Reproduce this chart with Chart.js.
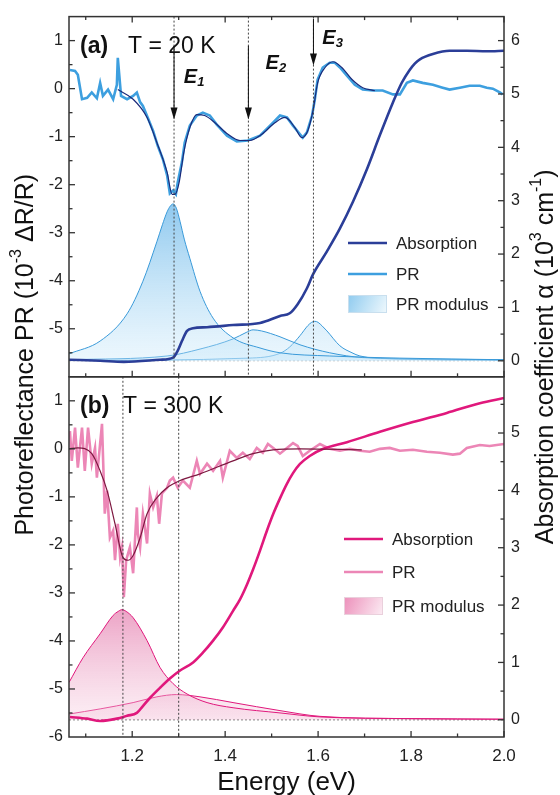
<!DOCTYPE html>
<html lang="en">
<head>
<meta charset="UTF-8">
<title>PR and absorption spectra, 20 K and 300 K</title>
<script src="https://cdn.jsdelivr.net/npm/chart.js"></script>
<style>
  html, body { margin: 0; padding: 0; background: #fff; }
  #wrap { width: 560px; height: 795px; position: relative; }
</style>
</head>
<body>
<div id="wrap"><canvas id="chart" width="560" height="795"></canvas></div>
<script>
// ---------- panel (a), T = 20 K ----------
const aPR_E = [1.066,1.077,1.083,1.092,1.103,1.113,1.124,1.131,1.137,1.148,1.159,1.167,1.169,1.176,1.189,1.202,1.210,1.217,1.223,1.232,1.245,1.255,1.266,1.275,1.281,1.288,1.294,1.298,1.307,1.313,1.324,1.339,1.352,1.367,1.382,1.404,1.425,1.449,1.475,1.503,1.518,1.533,1.546,1.561,1.567,1.576,1.587,1.593,1.599,1.610,1.625,1.636,1.647,1.662,1.679,1.696,1.718,1.739,1.761,1.776,1.791,1.804,1.825,1.847,1.868,1.883,1.905,1.926,1.948,1.963,1.976,1.991,1.997];
const aPR_V = [0.39,0.37,0.29,-0.22,-0.19,-0.08,-0.2,0.12,-0.15,-0.02,-0.22,0.08,0.64,-0.15,-0.22,-0.15,-0.08,-0.28,-0.36,-0.57,-0.88,-1.19,-1.47,-1.8,-2.18,-2.12,-2.2,-1.95,-1.53,-1.12,-0.77,-0.56,-0.5,-0.56,-0.75,-0.98,-1.1,-1.08,-0.98,-0.71,-0.56,-0.6,-0.77,-0.95,-1.02,-0.91,-0.56,-0.22,0.19,0.44,0.54,0.54,0.44,0.27,0.08,-0.02,-0.04,-0.04,-0.12,-0.12,0.12,0.17,0.12,0.08,0.02,-0.02,0.02,0.06,0.06,0.02,0.0,-0.08,-0.12];

const aFit_E = [1.169,1.202,1.232,1.253,1.275,1.286,1.292,1.301,1.311,1.324,1.339,1.356,1.378,1.406,1.432,1.453,1.479,1.507,1.529,1.550,1.565,1.578,1.589,1.599,1.615,1.632,1.651,1.673,1.696,1.722];
const aFit_V = [-0.02,-0.22,-0.6,-1.12,-1.74,-2.2,-2.2,-1.95,-1.33,-0.81,-0.54,-0.56,-0.71,-0.95,-1.08,-1.08,-0.95,-0.71,-0.6,-0.81,-1.02,-0.87,-0.46,0.12,0.44,0.56,0.44,0.19,0.02,-0.04];

const aAbs_E = [1.064,1.131,1.182,1.260,1.288,1.298,1.307,1.318,1.331,1.361,1.417,1.475,1.518,1.539,1.556,1.576,1.589,1.619,1.647,1.675,1.705,1.733,1.761,1.780,1.797,1.808,1.819,1.847,1.883,1.920,1.963,2.0];
const aAbs_A = [0.02,0.0,-0.02,0.02,0.06,0.19,0.37,0.56,0.61,0.63,0.67,0.71,0.84,0.89,1.06,1.36,1.62,2.05,2.48,2.98,3.59,4.23,4.84,5.21,5.45,5.57,5.65,5.75,5.81,5.81,5.8,5.81];

const aM1_E = [1.064,1.131,1.189,1.223,1.253,1.265,1.275,1.282,1.288,1.295,1.303,1.312,1.324,1.346,1.374,1.417,1.475,1.518,1.625,1.776,2.0];
const aM1_A = [0.13,0.37,0.88,1.49,2.23,2.55,2.79,2.9,2.94,2.86,2.61,2.28,1.92,1.3,0.8,0.43,0.24,0.15,0.09,0.05,0.02];
const aM2_E = [1.064,1.275,1.346,1.417,1.445,1.460,1.478,1.518,1.561,1.625,1.696,1.85,2.0];
const aM2_A = [0.02,0.09,0.22,0.41,0.53,0.58,0.56,0.45,0.3,0.15,0.06,0.03,0.02];
const aM3_E = [1.064,1.45,1.518,1.539,1.561,1.578,1.586,1.593,1.600,1.609,1.619,1.647,1.673,1.69,1.754,2.0];
const aM3_A = [0.005,0.05,0.14,0.26,0.47,0.66,0.72,0.74,0.72,0.65,0.56,0.28,0.15,0.09,0.04,0.01];

const aLines = [1.29, 1.45, 1.59];

// ---------- panel (b), T = 300 K ----------
const bPR_E = [1.066,1.070,1.077,1.083,1.092,1.098,1.105,1.113,1.120,1.124,1.135,1.141,1.146,1.152,1.159,1.163,1.169,1.174,1.178,1.182,1.187,1.195,1.202,1.210,1.212,1.217,1.223,1.232,1.238,1.245,1.253,1.258,1.264,1.275,1.281,1.288,1.298,1.309,1.324,1.339,1.346,1.361,1.374,1.389,1.395,1.410,1.425,1.438,1.453,1.468,1.481,1.492,1.511,1.518,1.533,1.546,1.556,1.567,1.582,1.604,1.625,1.647,1.668,1.690,1.711,1.733,1.754,1.776,1.804,1.834,1.862,1.890,1.905,1.920,1.948,1.969,2.0];
const bPR_V = [0.37,-0.25,0.44,-0.39,0.44,-0.46,0.44,-0.31,0.02,-0.6,0.52,-1.35,-0.87,-1.85,-1.7,-2.32,-1.56,-2.26,-2.05,-3.09,-2.32,-2.05,-2.59,-1.22,-1.76,-2.05,-1.35,-1.97,-0.93,-1.22,-0.98,-1.56,-0.93,-0.81,-0.66,-0.6,-0.81,-0.66,-0.81,-0.25,-0.52,-0.31,-0.46,-0.25,-0.6,-0.04,-0.19,-0.08,-0.21,0.02,-0.08,0.1,-0.04,-0.1,0.02,0.12,0.06,-0.15,-0.04,0.1,0.0,-0.04,0.0,-0.04,-0.06,0.0,0.02,-0.04,-0.02,-0.06,-0.08,-0.12,-0.1,0.02,0.08,0.06,0.1];

const bFit_E = [1.064,1.083,1.113,1.131,1.146,1.163,1.180,1.191,1.202,1.217,1.232,1.253,1.275,1.303,1.346,1.417,1.460,1.503,1.561,1.694];
const bFit_V = [0.0,0.02,-0.1,-0.46,-0.87,-1.56,-2.26,-2.32,-2.22,-1.85,-1.35,-1.02,-0.81,-0.66,-0.52,-0.25,-0.1,-0.02,0.0,-0.02];

const bAbs_E = [1.066,1.103,1.131,1.167,1.189,1.210,1.223,1.238,1.260,1.281,1.303,1.331,1.352,1.374,1.395,1.417,1.432,1.447,1.460,1.475,1.490,1.504,1.518,1.532,1.546,1.561,1.582,1.610,1.662,1.733,1.804,1.877,1.948,2.0];
const bAbs_A = [0.05,0.02,-0.02,0.02,0.07,0.12,0.24,0.38,0.56,0.72,0.86,1.0,1.17,1.38,1.61,1.9,2.1,2.36,2.62,2.95,3.3,3.6,3.86,4.1,4.3,4.46,4.6,4.72,4.84,5.02,5.19,5.35,5.52,5.61];

const bM1_E = [1.064,1.094,1.131,1.159,1.170,1.178,1.187,1.202,1.232,1.260,1.288,1.318,1.361,1.417,1.518,1.604,1.80,2.0];
const bM1_A = [0.65,1.08,1.5,1.82,1.89,1.92,1.89,1.78,1.38,0.91,0.63,0.45,0.3,0.21,0.12,0.05,0.02,0.01];
const bM2_E = [1.064,1.131,1.202,1.253,1.295,1.346,1.417,1.518,1.604,1.80,2.0];
const bM2_A = [0.1,0.19,0.3,0.4,0.44,0.4,0.3,0.16,0.06,0.02,0.01];

const bLines = [1.18, 1.30];

// ---------- ticks ----------
const xMajor = [1.2, 1.4, 1.6, 1.8, 2.0];
const xMinor = [1.1, 1.3, 1.5, 1.7, 1.9];
const leftTicksA = [1, 0, -1, -2, -3, -4, -5];
const leftTicksB = [1, 0, -1, -2, -3, -4, -5, -6];
const rightTicksA = [0, 1, 2, 3, 4, 5, 6];
const rightTicksB = [0, 1, 2, 3, 4, 5];

const FONT = '"Liberation Sans", Arial, sans-serif';
Chart.defaults.font.family = FONT;
Chart.defaults.color = '#222';

const pts = (E, V) => E.map((e, i) => ({ x: e, y: V[i] }));

function fillGrad(axisId, topVal, top, bottom) {
  return (c) => {
    const chart = c.chart;
    const s = chart.scales[axisId];
    if (!chart.chartArea || !s || s.top === undefined) return bottom;
    const g = chart.ctx.createLinearGradient(0, s.getPixelForValue(topVal), 0, s.getPixelForValue(0));
    g.addColorStop(0, top);
    g.addColorStop(1, bottom);
    return g;
  };
}

function line(label, E, V, axis, color, width, order, smooth) {
  return {
    label, data: pts(E, V), yAxisID: axis, borderColor: color, borderWidth: width,
    pointRadius: 0, fill: false, order,
    tension: smooth ? 0.4 : 0, cubicInterpolationMode: smooth ? 'monotone' : 'default'
  };
}
function modulus(E, V, axis, color, topVal, top, bottom) {
  return {
    label: 'PR modulus', data: pts(E, V), yAxisID: axis, borderColor: color, borderWidth: 1,
    pointRadius: 0, fill: 'origin', backgroundColor: fillGrad(axis, topVal, top, bottom), order: 5,
    tension: 0.4, cubicInterpolationMode: 'monotone'
  };
}

const blueFillTop = 'rgba(70,165,228,0.62)', blueFillBot = 'rgba(200,232,250,0.35)';
const pinkFillTop = 'rgba(222,95,155,0.6)', pinkFillBot = 'rgba(246,205,224,0.35)';

const datasets = [
  line('Fit a', aFit_E, aFit_V, 'yA', '#1b2a7a', 1.2, 0, true),
  line('Absorption', aAbs_E, aAbs_A, 'rA', '#2b3e98', 2.6, 1, true),
  line('PR', aPR_E, aPR_V, 'yA', '#3d9fdf', 2.6, 2, false),
  modulus(aM1_E, aM1_A, 'rA', '#3a9ad9', 3, blueFillTop, blueFillBot),
  modulus(aM2_E, aM2_A, 'rA', '#3a9ad9', 3, blueFillTop, blueFillBot),
  modulus(aM3_E, aM3_A, 'rA', '#3a9ad9', 3, blueFillTop, blueFillBot),
  line('Fit b', bFit_E, bFit_V, 'yB', '#7d1840', 1.2, 0, true),
  line('Absorption', bAbs_E, bAbs_A, 'rB', '#e0187c', 2.6, 1, true),
  line('PR', bPR_E, bPR_V, 'yB', '#ec86b6', 2.6, 2, false),
  modulus(bM1_E, bM1_A, 'rB', '#e0187c', 2, pinkFillTop, pinkFillBot),
  modulus(bM2_E, bM2_A, 'rB', '#e0187c', 2, pinkFillTop, pinkFillBot)
];

function yAxis(pos, stack, weight, min, max, tickList, width) {
  return {
    type: 'linear', position: pos, stack, stackWeight: 1, weight, min, max,
    grid: { display: false, drawTicks: false }, border: { display: false },
    afterBuildTicks: s => { s.ticks = tickList.map(v => ({ value: v })); },
    afterFit: s => { s.width = width; },
    ticks: { font: { size: 16 }, color: '#222', padding: pos === 'left' ? 6 : 7, callback: v => String(v), autoSkip: false }
  };
}

// ---------- drawing helpers ----------
function fontStr(p) { return (p.i ? 'italic ' : '') + (p.b ? 'bold ' : '') + p.s + 'px ' + FONT; }
function rich(ctx, parts, x, y, align) {
  let w = 0;
  parts.forEach(p => { ctx.font = fontStr(p); p.w = ctx.measureText(p.t).width; w += p.w; });
  let cx = align === 'center' ? x - w / 2 : x;
  parts.forEach(p => { ctx.font = fontStr(p); ctx.fillText(p.t, cx, y + (p.dy || 0)); cx += p.w; });
}
function seg(ctx, x0, y0, x1, y1) { ctx.beginPath(); ctx.moveTo(x0, y0); ctx.lineTo(x1, y1); ctx.stroke(); }
function arrow(ctx, x, y0, y1) {
  seg(ctx, x, y0, x, y1 - 8);
  ctx.beginPath(); ctx.moveTo(x, y1); ctx.lineTo(x - 3.5, y1 - 12); ctx.lineTo(x + 3.5, y1 - 12); ctx.closePath(); ctx.fill();
}

const decor = {
  id: 'decor',
  beforeDatasetsDraw(chart) {
    const { ctx } = chart; const x = chart.scales.x;
    ctx.save();
    ctx.setLineDash([2, 2]); ctx.lineWidth = 1;
    ['rA', 'rB'].forEach((id, k) => {
      const y = chart.scales[id].getPixelForValue(0);
      ctx.strokeStyle = k === 0 ? '#bbb' : '#555';
      seg(ctx, x.left, y, x.right, y);
    });
    ctx.restore();
  },
  afterDatasetsDraw(chart) {
    const { ctx } = chart; const x = chart.scales.x;
    const yA = chart.scales.yA, yB = chart.scales.yB, rA = chart.scales.rA, rB = chart.scales.rB;
    ctx.save();
    // dotted transition lines
    ctx.setLineDash([2, 2]); ctx.lineWidth = 1; ctx.strokeStyle = '#444';
    aLines.forEach(e => { const px = x.getPixelForValue(e); seg(ctx, px, yA.top, px, yA.bottom); });
    bLines.forEach(e => { const px = x.getPixelForValue(e); seg(ctx, px, yB.top, px, yB.bottom); });
    ctx.setLineDash([]);
    // arrows
    ctx.strokeStyle = '#111'; ctx.fillStyle = '#111'; ctx.lineWidth = 1;
    arrow(ctx, x.getPixelForValue(aLines[0]), yA.getPixelForValue(0.89), yA.getPixelForValue(-0.64));
    arrow(ctx, x.getPixelForValue(aLines[1]), yA.getPixelForValue(0.89), yA.getPixelForValue(-0.64));
    arrow(ctx, x.getPixelForValue(aLines[2]), yA.getPixelForValue(1.45), yA.getPixelForValue(0.48));
    // E labels
    ctx.textBaseline = 'alphabetic'; ctx.fillStyle = '#111';
    const eLab = (e, v, n) => rich(ctx, [{ t: 'E', s: 20, b: 1, i: 1 }, { t: n, s: 13, b: 1, i: 1, dy: 3 }], x.getPixelForValue(e), yA.getPixelForValue(v), 'left');
    eLab(1.311, 0.12, '1');
    eLab(1.487, 0.4, '2');
    eLab(1.609, 0.92, '3');
    // panel labels
    const L = x.left;
    rich(ctx, [{ t: '(a)', s: 23, b: 1 }], L + 11, yA.top + 36, 'left');
    rich(ctx, [{ t: 'T = 20 K', s: 23 }], L + 59, yA.top + 36, 'left');
    rich(ctx, [{ t: '(b)', s: 23, b: 1 }], L + 11, yB.top + 36, 'left');
    rich(ctx, [{ t: 'T = 300 K', s: 23 }], L + 54, yB.top + 36, 'left');
    // frames
    ctx.strokeStyle = '#333'; ctx.lineWidth = 1.5;
    ctx.strokeRect(x.left, yA.top, x.right - x.left, yA.bottom - yA.top);
    ctx.strokeRect(x.left, yB.top, x.right - x.left, yB.bottom - yB.top);
    // ticks (inside)
    ctx.lineWidth = 1.3;
    const xt = (y, dir) => {
      xMajor.forEach(v => { const p = x.getPixelForValue(v); seg(ctx, p, y, p, y + dir * 6); });
      xMinor.forEach(v => { const p = x.getPixelForValue(v); seg(ctx, p, y, p, y + dir * 3.5); });
    };
    xt(yA.top, 1); xt(yA.bottom, -1); xt(yB.bottom, -1);
    const yt = (s, px, dir) => {
      for (let v = Math.ceil(s.min * 2) / 2; v <= s.max; v += 0.5) {
        const p = s.getPixelForValue(v);
        if (p < s.top + 1 || p > s.bottom - 1) continue;
        seg(ctx, px, p, px + dir * (Number.isInteger(v) ? 6 : 3.5), p);
      }
    };
    yt(yA, x.left, 1); yt(yB, x.left, 1); yt(rA, x.right, -1); yt(rB, x.right, -1);
    // legends
    const legend = (x0, yLines, boxY, cAbs, cPR, g0, g1, border) => {
      ctx.lineWidth = 2.6;
      ctx.strokeStyle = cAbs; seg(ctx, x0, yLines[0], x0 + 39, yLines[0]);
      ctx.strokeStyle = cPR; seg(ctx, x0, yLines[1], x0 + 39, yLines[1]);
      const g = ctx.createLinearGradient(x0, boxY, x0 + 39, boxY + 18);
      g.addColorStop(0, g0); g.addColorStop(1, g1);
      ctx.fillStyle = g; ctx.fillRect(x0, boxY, 39, 18);
      ctx.strokeStyle = border; ctx.lineWidth = 1; ctx.strokeRect(x0 + 0.5, boxY + 0.5, 38, 17);
      ctx.fillStyle = '#222'; ctx.textBaseline = 'middle';
      rich(ctx, [{ t: 'Absorption', s: 17 }], x0 + 48, yLines[0] + 1, 'left');
      rich(ctx, [{ t: 'PR', s: 17 }], x0 + 48, yLines[1] + 1, 'left');
      rich(ctx, [{ t: 'PR modulus', s: 17 }], x0 + 48, boxY + 10, 'left');
    };
    legend(348, [243, 274], 295, '#2b3e98', '#3d9fdf', '#8fcbef', '#f0f9fd', '#c9dfee');
    legend(344, [539, 572], 597, '#e0187c', '#ec86b6', '#ec8fba', '#fcedf4', '#ead0dc');
    // axis titles
    ctx.fillStyle = '#111'; ctx.textBaseline = 'middle';
    const mid = (yA.top + yB.bottom) / 2;
    ctx.save(); ctx.translate(26, mid - 22); ctx.rotate(-Math.PI / 2);
    rich(ctx, [{ t: 'Photoreflectance PR (10', s: 25 }, { t: '-3', s: 16, dy: -9 }, { t: ' \u0394R/R)', s: 25 }], 0, 0, 'center');
    ctx.restore();
    ctx.save(); ctx.translate(546, mid - 20); ctx.rotate(-Math.PI / 2);
    rich(ctx, [{ t: 'Absorption coefficient \u03b1 (10', s: 25 }, { t: '3', s: 16, dy: -9 }, { t: ' cm', s: 25 }, { t: '-1', s: 16, dy: -9 }, { t: ')', s: 25 }], 0, 0, 'center');
    ctx.restore();
    ctx.textBaseline = 'alphabetic';
    rich(ctx, [{ t: 'Energy (eV)', s: 26 }], (x.left + x.right) / 2, 790, 'center');
    ctx.restore();
  }
};

new Chart(document.getElementById('chart'), {
  type: 'line',
  data: { datasets },
  options: {
    responsive: false, animation: false, devicePixelRatio: 1,
    layout: { padding: { top: 14, left: 0, right: 0, bottom: 0 } },
    plugins: { legend: { display: false }, tooltip: { enabled: false } },
    scales: {
      x: {
        type: 'linear', position: 'bottom', min: 1.064, max: 2.0,
        grid: { display: false, drawTicks: false }, border: { display: false },
        afterBuildTicks: s => { s.ticks = xMajor.map(v => ({ value: v })); },
        afterFit: s => { s.height = 58; },
        ticks: { font: { size: 17 }, color: '#222', padding: 9, maxRotation: 0, autoSkip: false, callback: v => v.toFixed(1) }
      },
      yA: yAxis('left', 'L', 2, -6, 1.5, leftTicksA, 69),
      yB: yAxis('left', 'L', 1, -6, 1.5, leftTicksB, 69),
      rA: yAxis('right', 'R', 1, -0.3, 6.45, rightTicksA, 56),
      rB: yAxis('right', 'R', 2, -0.3, 5.98, rightTicksB, 56)
    }
  },
  plugins: [decor]
});
</script>
</body>
</html>
